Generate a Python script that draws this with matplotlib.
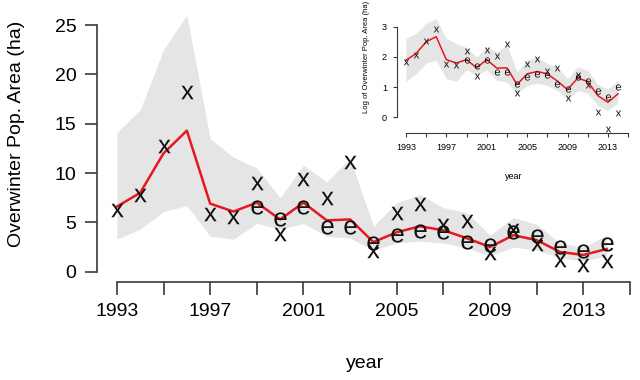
import numpy as np
import matplotlib
matplotlib.use("Agg")
from matplotlib import pyplot as plt

plt.rcParams['font.family'] = ['Liberation Sans', 'DejaVu Sans']

# data
years = list(range(1993, 2015))
e_years = list(range(1999, 2015))

est = [6.6, 8.0, 12.0, 14.3, 6.9, 6.1, 7.0, 5.3, 7.0, 5.2, 5.3,
       3.0, 4.0, 4.6, 4.2, 3.4, 2.5, 3.7, 3.2, 2.0, 1.7, 2.3]
obs_x = [6.3, 7.8, 12.7, 18.2, 5.8, 5.5, 9.0, 3.8, 9.4, 7.5, 11.1,
         2.1, 5.9, 6.9, 4.7, 5.1, 1.9, 4.2, 2.8, 1.2, 0.7, 1.1]
obs_e = [6.6, 5.3, 6.6, 4.5, 4.5, 2.9, 3.7, 4.1, 4.0, 3.0, 2.7,
         4.0, 3.6, 2.5, 2.1, 2.8]
upper = [14.1, 16.4, 22.5, 26.0, 13.5, 11.6, 10.5, 7.5, 10.8, 9.1, 11.5,
         4.6, 7.0, 7.8, 6.5, 6.0, 3.7, 5.5, 4.8, 2.9, 2.5, 3.7]
lower = [3.3, 4.3, 6.1, 6.7, 3.6, 3.3, 4.9, 4.3, 4.9, 3.6, 3.4,
         2.2, 2.9, 3.1, 2.9, 2.4, 1.6, 2.5, 2.2, 1.4, 1.1, 1.6]

# inset (log scale values)
log_est = [1.89, 2.11, 2.50, 2.67, 1.91, 1.80, 1.91, 1.64, 1.91, 1.63, 1.64,
           1.09, 1.44, 1.52, 1.44, 1.20, 0.92, 1.30, 1.19, 0.72, 0.50, 0.78]
log_x = [1.83, 2.06, 2.53, 2.91, 1.76, 1.72, 2.20, 1.36, 2.24, 2.03, 2.42,
         0.80, 1.78, 1.92, 1.53, 1.63, 0.64, 1.39, 1.06, 0.19, -0.37, 0.13]
log_e = [1.89, 1.69, 1.89, 1.50, 1.50, 1.09, 1.33, 1.44, 1.39, 1.09, 0.94,
         1.33, 1.22, 0.89, 0.67, 1.00]
log_upper = [2.61, 2.78, 3.11, 3.26, 2.61, 2.44, 2.31, 2.00, 2.33, 2.17, 2.39,
             1.50, 1.91, 2.00, 1.78, 1.67, 1.28, 1.67, 1.56, 1.09, 0.94, 1.22]
log_lower = [1.19, 1.44, 1.80, 1.89, 1.28, 1.19, 1.58, 1.39, 1.58, 1.22, 1.17,
             0.78, 1.06, 1.13, 1.06, 0.89, 0.61, 0.89, 0.80, 0.39, 0.22, 0.50]

tick_years = list(range(1993, 2016, 2))
label_years = [1993, 1997, 2001, 2005, 2009, 2013]
tick_labels = [str(y) if y in label_years else "" for y in tick_years]

band_col = "#e5e5e5"
red = "#e8171f"
axcol = "#3a3a3a"


def r_style(ax, yticks, xlim, ylim, fs, tlen, pad):
    ax.set_xlim(*xlim)
    ax.set_ylim(*ylim)
    for s in ["top", "right"]:
        ax.spines[s].set_visible(False)
    ax.spines["left"].set_bounds(yticks[0], yticks[-1])
    ax.spines["bottom"].set_bounds(tick_years[0], tick_years[-1])
    for s in ["left", "bottom"]:
        ax.spines[s].set_color(axcol)
    ax.set_yticks(yticks)
    ax.set_xticks(tick_years)
    ax.set_xticklabels(tick_labels)
    ax.tick_params(length=tlen, color=axcol, labelsize=fs, pad=pad)


fig = plt.figure(figsize=(6.4, 3.8), dpi=100)

# main panel
ax = fig.add_axes([0.152, 0.258, 0.836, 0.729])
ax.fill_between(years, lower, upper, color=band_col, lw=0)
ax.plot(years, est, color=red, lw=1.8, zorder=3)
ax.scatter(years, obs_x, marker=r"$\mathregular{x}$", s=95, color="#111111", lw=0, zorder=4)
ax.scatter(e_years, obs_e, marker=r"$\mathregular{e}$", s=105, color="#111111", lw=0, zorder=4)
r_style(ax, [0, 5, 10, 15, 20, 25], (1992.16, 2015.1), (-1.04, 27.04), 14, 9, 6)
for s in ["left", "bottom"]:
    ax.spines[s].set_linewidth(1.2)
ax.tick_params(width=1.2)
ax.set_ylabel("Overwinter Pop. Area (ha)", fontsize=14)
ax.yaxis.set_label_coords(-0.135, 0.535)
ax.set_xlabel("year", fontsize=14, labelpad=25)

# inset panel
ins = fig.add_axes([0.621, 0.65, 0.362, 0.312], facecolor="none")
ins.fill_between(years, log_lower, log_upper, color=band_col, lw=0)
ins.plot(years, log_est, color=red, lw=1.1, zorder=3)
ins.scatter(years, log_x, marker=r"$\mathregular{x}$", s=18, color="#111111", lw=0, zorder=4)
ins.scatter(e_years, log_e, marker=r"$\mathregular{e}$", s=20, color="#111111", lw=0, zorder=4)
r_style(ins, [0, 1, 2, 3], (1992.16, 2015.1), (-0.515, 3.405), 6.5, 3, 4.5)
for s in ["left", "bottom"]:
    ins.spines[s].set_linewidth(0.8)
ins.tick_params(width=0.8)
ins.set_ylabel("Log of Overwinter Pop. Area (ha)", fontsize=5.5)
ins.yaxis.set_label_coords(-0.12, 0.64)
ins.set_xlabel("year", fontsize=6.5, labelpad=14)

fig.savefig("out.png", dpi=100)
